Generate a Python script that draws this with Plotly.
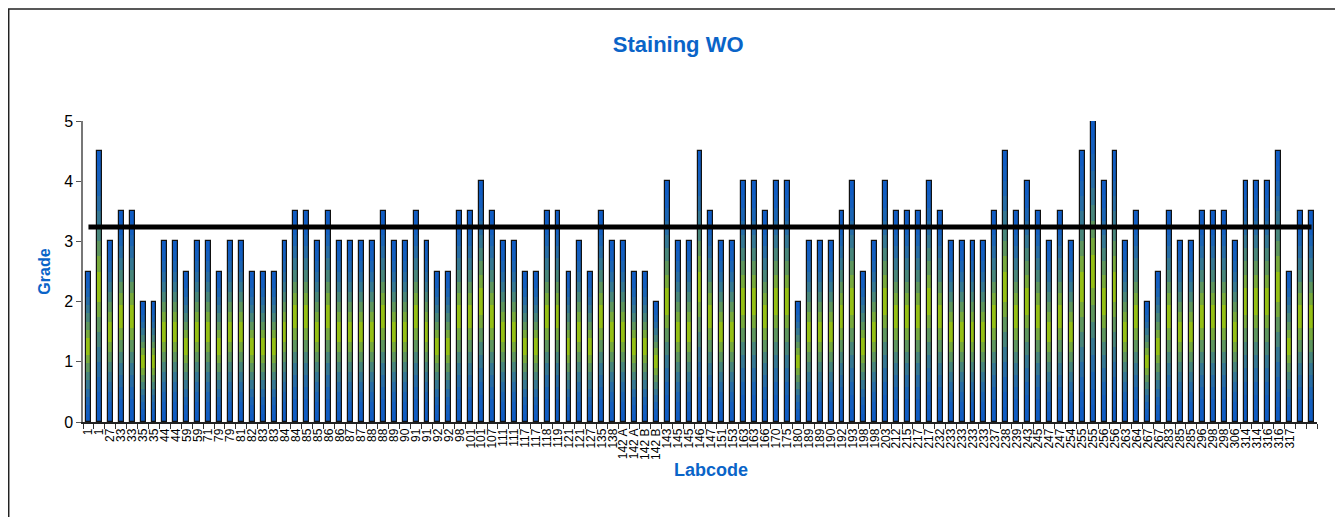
import plotly.graph_objects as go

# Labcodes as printed under each bar (last two bars carry no label)
LABCODES = ['1', '1', '27', '33', '33', '35', '35', '44', '44', '59', '59', '71', '79', '79', '81',
            '82', '83', '83', '84', '84', '85', '85', '86', '86', '87', '87', '88', '88', '89', '90',
            '91', '91', '92', '92', '98', '101', '101', '107', '111', '111', '117', '117', '118', '119',
            '121', '121', '127', '135', '138', '142 A', '142 A', '142 B', '142 B', '143', '145', '145',
            '146', '147', '151', '153', '163', '163', '166', '170', '175', '180', '189', '189', '190',
            '192', '193', '198', '198', '203', '212', '215', '217', '217', '232', '233', '233', '233',
            '233', '237', '238', '239', '243', '245', '247', '247', '254', '255', '255', '256', '256',
            '263', '264', '267', '267', '283', '285', '285', '296', '298', '298', '306', '314', '314',
            '316', '316', '317', '', '']

GRADES = [2.5, 4.5, 3, 3.5, 3.5, 2, 2, 3, 3, 2.5, 3, 3, 2.5, 3, 3, 2.5, 2.5, 2.5, 3, 3.5, 3.5, 3, 3.5,
          3, 3, 3, 3, 3.5, 3, 3, 3.5, 3, 2.5, 2.5, 3.5, 3.5, 4, 3.5, 3, 3, 2.5, 2.5, 3.5, 3.5, 2.5, 3,
          2.5, 3.5, 3, 3, 2.5, 2.5, 2, 4, 3, 3, 4.5, 3.5, 3, 3, 4, 4, 3.5, 4, 4, 2, 3, 3, 3,
          3.5, 4, 2.5, 3, 4, 3.5, 3.5, 3.5, 4, 3.5, 3, 3, 3, 3, 3.5, 4.5, 3.5, 4, 3.5, 3, 3.5, 3, 4.5,
          5, 4, 4.5, 3, 3.5, 2, 2.5, 3.5, 3, 3, 3.5, 3.5, 3.5, 3, 4, 4, 4, 4.5, 2.5, 3.5, 3.5]

MEAN_GRADE = [3.24]

BLUE = (16, 92, 196)
GREEN = (165, 204, 0)
N_SEG = 18
BAR_W = 0.45
TITLE_BLUE = '#0A64C8'

x_pos = list(range(len(GRADES)))


def mix(c1, c2, t):
    return 'rgb(%d,%d,%d)' % tuple(round(a + (b - a) * t) for a, b in zip(c1, c2))


fig = go.Figure()

# vertical gradient: blue at top and bottom, yellow-green in the middle
for k in range(N_SEG):
    t = 1 - abs((k + 0.5) / N_SEG - 0.5) * 2
    fig.add_trace(go.Bar(x=x_pos, y=[g / N_SEG for g in GRADES], base=[g * k / N_SEG for g in GRADES],
                         width=BAR_W, marker=dict(color=mix(BLUE, GREEN, t ** 2), line_width=0),
                         hoverinfo='skip', showlegend=False))

# outline of each bar
fig.add_trace(go.Bar(x=x_pos, y=GRADES, width=BAR_W,
                     marker=dict(color='rgba(0,0,0,0)', line=dict(color='#111111', width=1.2)),
                     showlegend=False, name='Grade'))

fig.add_trace(go.Scatter(x=[x_pos[0], x_pos[-1]], y=MEAN_GRADE * 2, mode='lines',
                         line=dict(color='black', width=5), showlegend=False, name='mean'))

# page body has an 8px margin, so the figure is a bit smaller than the window
fig.update_layout(
    width=1335, height=509,
    barmode='overlay',
    bargap=0,
    paper_bgcolor='white', plot_bgcolor='white',
    margin=dict(l=75, r=26, t=113, b=95),
    font=dict(family='Liberation Sans, Arial', size=16, color='black'),
    title=dict(text='<b>Staining WO</b>', x=0.502, xref='container', y=0.929, yanchor='middle',
               xanchor='center', font=dict(family='Liberation Sans, Arial', size=22, color=TITLE_BLUE)),
    shapes=[dict(type='rect', xref='paper', yref='paper', x0=-0.0602, x1=1.2, y0=-0.5, y1=1.3725,
                 line=dict(color='#222222', width=1.5))],
    annotations=[dict(text='<b>Labcode</b>', xref='paper', yref='paper', x=0.509, y=-0.161,
                      xanchor='center', yanchor='middle', showarrow=False,
                      font=dict(family='Liberation Sans, Arial', size=18, color=TITLE_BLUE))],
)

fig.update_xaxes(
    range=[-0.5, len(GRADES) - 0.5],
    tickmode='array', tickvals=x_pos, ticktext=LABCODES, tickangle=-90,
    tickfont=dict(size=12), ticks='',
    minor=dict(tick0=-0.5, dtick=1, ticks='outside', ticklen=5, tickcolor='#333333'),
    showline=True, linecolor='#222222', linewidth=1.5,
    showgrid=False, zeroline=False,
)

fig.update_yaxes(
    range=[0, 5], dtick=1, ticks='outside', ticklen=5, tickcolor='#555555',
    tickfont=dict(size=16),
    showline=True, linecolor='#777777', linewidth=1.5,
    showgrid=False, zeroline=False,
    title=dict(text='<b>Grade</b>', font=dict(family='Liberation Sans, Arial', size=16, color=TITLE_BLUE),
               standoff=10),
)

fig.write_html('out.html')
